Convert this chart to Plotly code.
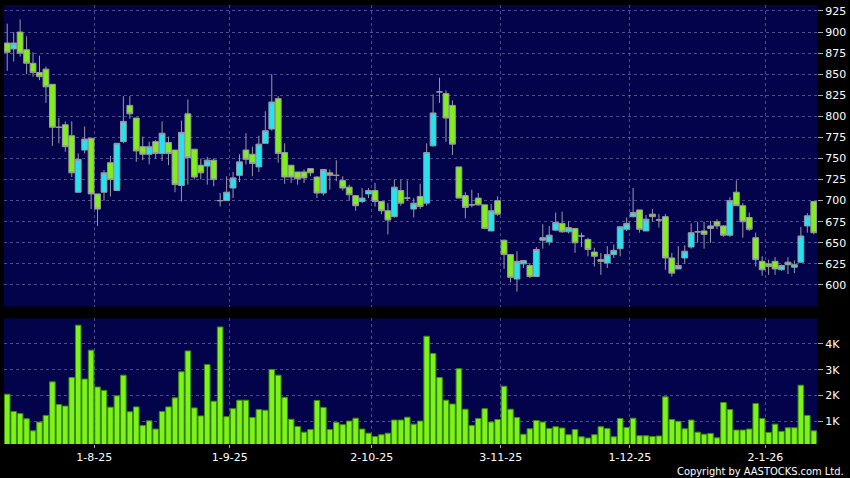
import pandas as pd
import plotly.graph_objects as go
from plotly.subplots import make_subplots

# HK trading days shown on the chart (weekdays minus exchange holidays)
hk_holidays = ["2025-10-01", "2025-10-07", "2025-10-29", "2025-12-25", "2025-12-26", "2026-01-01"]
dates = [
    d.strftime("%Y-%m-%d")
    for d in pd.bdate_range("2025-07-14", "2026-01-13")
    if d.strftime("%Y-%m-%d") not in hk_holidays
]

open_ = [887, 880, 900, 879, 863, 852, 856, 838, 787, 790, 777, 710, 760, 774, 708, 710, 745, 712, 770, 813,
         798, 764, 755, 770, 756, 769, 760, 718, 803, 761, 742, 741, 748, 700, 700, 715, 730, 760, 755, 740,
         768, 785, 821, 757, 742, 734, 734, 738, 728, 709, 733, 730, 724, 716, 706, 699, 708, 712, 699, 688,
         681, 712, 703, 690, 705, 697, 765, 829, 827, 813, 740, 706, 695, 703, 695, 664, 700, 653, 636, 607,
         625, 623, 610, 653, 651, 665, 673, 663, 667, 658, 654, 639, 630, 626, 636, 643, 666, 681, 689, 664,
         684, 677, 681, 632, 619, 632, 645, 663, 664, 667, 675, 670, 659, 710, 694, 680, 656, 628, 625, 628,
         618, 627, 621, 627, 670, 699]
high = [910, 900, 915, 895, 876, 872, 859, 838, 798, 794, 794, 756, 788, 774, 708, 736, 753, 768, 824, 824,
        798, 776, 770, 772, 794, 776, 760, 795, 820, 761, 750, 752, 750, 709, 729, 734, 755, 780, 764, 777,
        806, 850, 824, 768, 742, 734, 737, 738, 729, 737, 737, 748, 729, 719, 706, 715, 715, 721, 699, 697,
        725, 725, 724, 703, 720, 768, 826, 846, 831, 819, 740, 710, 713, 709, 695, 696, 705, 654, 636, 640,
        629, 626, 645, 672, 670, 686, 687, 676, 667, 662, 656, 644, 638, 646, 648, 669, 680, 715, 689, 683,
        690, 684, 684, 638, 646, 647, 673, 675, 675, 676, 678, 671, 704, 724, 697, 686, 662, 634, 630, 633,
        624, 633, 629, 669, 685, 699]
low = [854, 865, 871, 850, 847, 843, 816, 765, 768, 758, 728, 709, 756, 690, 670, 700, 705, 712, 768, 797,
       746, 748, 743, 750, 747, 742, 710, 699, 719, 725, 725, 719, 717, 693, 700, 703, 722, 743, 729, 734,
       768, 783, 745, 720, 721, 719, 721, 729, 703, 706, 713, 723, 712, 700, 688, 697, 703, 693, 684, 660,
       680, 694, 700, 680, 690, 694, 764, 816, 770, 754, 703, 679, 692, 694, 666, 664, 682, 619, 603, 592,
       620, 608, 610, 643, 647, 664, 662, 661, 638, 645, 634, 622, 612, 620, 632, 634, 664, 680, 662, 664,
       675, 668, 618, 610, 619, 625, 643, 650, 643, 650, 666, 657, 657, 694, 656, 664, 622, 611, 612, 612,
       617, 613, 614, 626, 662, 660]
close = [876, 887, 875, 863, 852, 847, 835, 787, 787, 764, 733, 749, 773, 708, 690, 733, 725, 768, 794, 803,
         759, 755, 764, 756, 780, 756, 719, 781, 751, 728, 733, 748, 725, 700, 710, 727, 746, 749, 744, 767,
         783, 817, 756, 728, 728, 726, 727, 733, 709, 737, 730, 730, 715, 707, 694, 703, 712, 699, 688, 677,
         716, 697, 703, 697, 693, 757, 804, 829, 798, 767, 703, 692, 695, 695, 667, 688, 684, 636, 609, 628,
         629, 610, 642, 656, 659, 674, 663, 668, 650, 658, 642, 634, 628, 636, 641, 669, 673, 686, 666, 678,
         681, 677, 632, 614, 623, 640, 662, 663, 660, 670, 670, 659, 700, 694, 675, 666, 630, 618, 622, 619,
         623, 624, 624, 658, 682, 662]
volume = [2050, 1380, 1300, 1100, 630, 970, 1230, 2530, 1650, 1590, 2700, 4730, 2640, 3760, 2330, 2200, 1550, 1990,
          2790, 1370, 1560, 840, 1020, 700, 1380, 1560, 1910, 2920, 3730, 1520, 1210, 3200, 1780, 4660, 1180, 1490,
          1820, 1820, 1150, 1460, 1430, 3010, 2790, 1930, 1080, 800, 580, 680, 1810, 1540, 680, 960, 870, 1010,
          1120, 700, 540, 410, 480, 540, 1050, 1050, 1160, 890, 1010, 4300, 3630, 2700, 1820, 1670, 3040, 1470,
          840, 1110, 1490, 970, 1070, 2360, 1470, 1150, 500, 710, 1030, 970, 720, 790, 740, 480, 680, 400,
          350, 480, 790, 720, 400, 1110, 760, 1120, 440, 440, 410, 430, 1950, 1070, 1000, 710, 1050, 580,
          500, 530, 360, 1730, 1460, 660, 660, 700, 1690, 1110, 570, 890, 610, 750, 750, 2400, 1230, 630]

month_starts = ["2025-08-01", "2025-09-01", "2025-10-02", "2025-11-03", "2025-12-01", "2026-01-02"]
month_labels = ["1-8-25", "1-9-25", "2-10-25", "3-11-25", "1-12-25", "2-1-26"]
price_ticks = [600, 625, 650, 675, 700, 725, 750, 775, 800, 825, 850, 875, 900, 925]
vol_ticks = [1000, 2000, 3000, 4000]
vol_labels = ["1K", "2K", "3K", "4K"]

# grid lines sit on the boundary before the first trading day of each month
month_pos = [dates.index(d) - 0.5 for d in month_starts]

grid = dict(showgrid=True, gridcolor="rgba(150,150,205,0.5)", gridwidth=1, griddash="3px,3px",
            zeroline=False, showline=False)
font = dict(family="DejaVu Sans", size=11, color="white")

fig = make_subplots(rows=2, cols=1, shared_xaxes=True, vertical_spacing=0.02)

fig.add_trace(
    go.Candlestick(
        x=dates, open=open_, high=high, low=low, close=close,
        increasing=dict(fillcolor="#22E4F0", line=dict(color="#9a9aa0", width=1)),
        decreasing=dict(fillcolor="#80EE1C", line=dict(color="#9a9aa0", width=1)),
        whiskerwidth=0,
        name="Price",
    ),
    row=1, col=1,
)
fig.add_trace(
    go.Bar(
        x=dates, y=volume,
        marker=dict(color="#7CF41A", line=dict(color="#3E8C0C", width=1)),
        name="Volume",
    ),
    row=2, col=1,
)

fig.update_layout(
    width=850, height=478,
    margin=dict(l=4, r=33, t=5, b=34),
    paper_bgcolor="black",
    plot_bgcolor="#03034C",
    showlegend=False,
    boxgap=0.1,
    boxgroupgap=0.0,
    bargap=0.14,
    font=font,
    xaxis=dict(type="category", range=[-0.5, len(dates) - 0.5], rangeslider=dict(visible=False),
               tickvals=month_pos, ticktext=month_labels, showticklabels=False, **grid),
    xaxis2=dict(type="category", range=[-0.5, len(dates) - 0.5], tickvals=month_pos, ticktext=month_labels,
                ticks="outside", ticklen=3, tickcolor="#aaaaaa", tickfont=font, **grid),
    yaxis=dict(domain=[0.313, 1], range=[574.3, 932.1], side="right", tickvals=price_ticks,
               ticks="outside", ticklen=5, tickcolor="#aaaaaa", tickfont=font, **grid),
    yaxis2=dict(domain=[0, 0.286], range=[120, 4990], side="right", tickvals=vol_ticks, ticktext=vol_labels,
                ticks="outside", ticklen=5, tickcolor="#aaaaaa", tickfont=font, **grid),
)
fig.add_annotation(
    text="Copyright by AASTOCKS.com Ltd.", xref="paper", yref="paper", x=1.0357, y=-0.0626,
    xanchor="right", yanchor="middle", showarrow=False,
    font=dict(family="DejaVu Sans Condensed, DejaVu Sans", size=11, color="white"),
)

fig.write_html(
    "out.html",
    config={"displayModeBar": False},
    post_script="document.body.style.margin='0';document.body.style.overflow='hidden';",
)
